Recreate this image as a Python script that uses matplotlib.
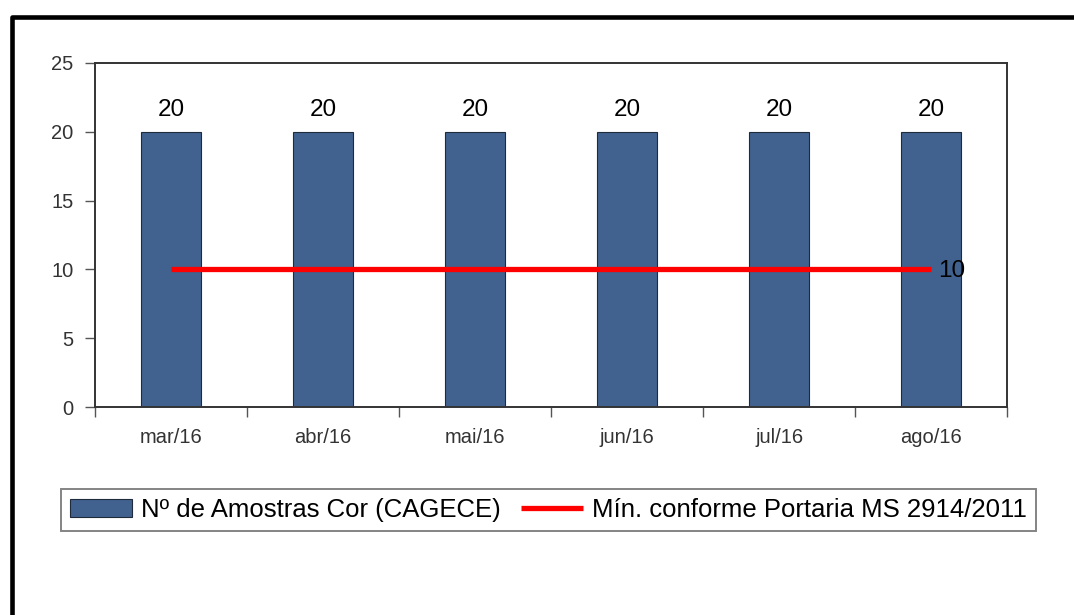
import numpy as np
import matplotlib.pyplot as plt
from matplotlib.patches import Rectangle

meses = ['mar/16', 'abr/16', 'mai/16', 'jun/16', 'jul/16', 'ago/16']
amostras = [20, 20, 20, 20, 20, 20]
minimo = [10, 10, 10, 10, 10, 10]

plt.rcParams['font.family'] = ['Liberation Sans', 'DejaVu Sans']

fig = plt.figure(figsize=(10.74, 6.15), dpi=100)
ax = fig.add_axes([0.0885, 0.3382, 0.8492, 0.5594])

x = np.arange(len(meses))
bars = ax.bar(x, amostras, width=0.4, color='#41628f', edgecolor='#1f2a3a', linewidth=0.8,
              label='Nº de Amostras Cor (CAGECE)', zorder=2)
linha, = ax.plot(x, minimo, color='#ff0000', linewidth=3.8, solid_capstyle='butt',
                 label='Mín. conforme Portaria MS 2914/2011', zorder=3)

for xi, v in zip(x, amostras):
    ax.annotate(str(v), (xi, v), xytext=(0, 8), textcoords='offset points',
                ha='center', va='bottom', fontsize=17.5, color='black')
ax.annotate(str(minimo[-1]), (x[-1], minimo[-1]), xytext=(5, -1), textcoords='offset points',
            ha='left', va='center', fontsize=17.5, color='black', zorder=4)

ax.set_xlim(-0.5, len(meses) - 0.5)
ax.set_ylim(0, 25)
ax.set_yticks(range(0, 26, 5))
ax.set_xticks(x)
ax.set_xticklabels(meses)
ax.set_xticks(np.arange(-0.5, len(meses), 1), minor=True)
ax.tick_params(axis='x', which='major', length=0, pad=15, labelsize=14.5, labelcolor='#333333')
ax.tick_params(axis='x', which='minor', length=7.5, width=1, color='#555555', direction='out')
ax.tick_params(axis='y', length=7.5, width=1, color='#555555', pad=8, labelsize=14.5,
               labelcolor='#333333', direction='out')
for s in ax.spines.values():
    s.set_color('#333333')
    s.set_linewidth(1.4)

leg = fig.legend([bars, linha], [bars.get_label(), linha.get_label()],
                 loc='center', bbox_to_anchor=(0.5105, 0.1715), ncol=2, fontsize=18.5,
                 frameon=True, fancybox=False, handlelength=2.4, handletextpad=0.35,
                 columnspacing=0.8, borderpad=0.35, borderaxespad=0)
leg.get_frame().set_edgecolor('#666666')
leg.get_frame().set_linewidth(1.4)

# borda da figura
fig.patches.append(Rectangle((0.0109, -0.2), 1.2, 0.9724 + 0.2, transform=fig.transFigure,
                             fill=False, edgecolor='black', linewidth=3.3, joinstyle='round'))

fig.savefig('out.png', dpi=100)
